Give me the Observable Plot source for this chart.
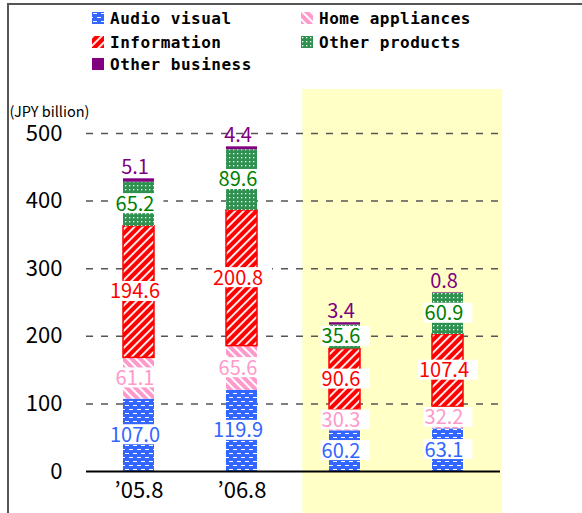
<!DOCTYPE html>
<html>
<head>
<meta charset="utf-8">
<script src="https://cdn.jsdelivr.net/npm/d3@7"></script>
<script src="https://cdn.jsdelivr.net/npm/@observablehq/plot@0.6"></script>
<style>
  body { margin: 0; background: #fff; }
  #wrap { position: relative; width: 582px; height: 513px; overflow: hidden; background: #fff; }
  #legend { position: relative; height: 80px; font-family: "DejaVu Sans Mono", monospace; font-weight: bold; font-size: 16px; color: #000; }
  .item { position: absolute; display: flex; align-items: center; white-space: nowrap; letter-spacing: 0.5px; height: 20px; }
  .item svg { margin-right: 6px; flex: none; }
  .lineL { position: absolute; left: 7px; top: 3px; width: 2px; height: 510px; background: #555; z-index: 5; }
  .lineT { position: absolute; left: 7px; top: 3px; width: 575px; height: 2px; background: #555; z-index: 5; }
  #chart svg { display: block; }
</style>
</head>
<body>
<svg width="0" height="0" style="position:absolute">
  <defs>
    <pattern id="pAV" patternUnits="userSpaceOnUse" width="8" height="8">
      <rect width="8" height="8" fill="#3366ff"/>
      <rect x="1" y="1" width="4" height="1" fill="#ffffff"/>
      <rect x="5" y="5" width="3" height="1" fill="#ffffff"/>
      <rect x="0" y="5" width="1" height="1" fill="#ffffff"/>
    </pattern>
    <pattern id="pHA" patternUnits="userSpaceOnUse" width="6" height="6" patternTransform="rotate(-45)">
      <rect width="6" height="6" fill="#ff99cc"/>
      <rect x="0" y="0" width="2" height="6" fill="#ffffff"/>
    </pattern>
    <pattern id="pIN" patternUnits="userSpaceOnUse" width="6" height="6" patternTransform="rotate(45)">
      <rect width="6" height="6" fill="#ff0000"/>
      <rect x="0" y="0" width="1.8" height="6" fill="#ffffff"/>
    </pattern>
    <pattern id="pOP" patternUnits="userSpaceOnUse" width="4" height="4">
      <rect width="4" height="4" fill="#2f9150"/>
      <rect x="1" y="1" width="1.3" height="1.3" fill="#ffffff"/>
    </pattern>
  </defs>
</svg>
<div id="wrap">
  <div class="lineL"></div>
  <div class="lineT"></div>
  <div id="legend"></div>
  <div id="chart"></div>
</div>
<script>
// ---- data ----
const periods = ["\u201905.8", "\u201906.8", "\u201906.2", "\u201907.2"];
const seriesNames = ["Audio visual", "Home appliances", "Information", "Other products", "Other business"];
const audioVisual    = [107.0, 119.9, 60.2, 63.1];
const homeAppliances = [61.1, 65.6, 30.3, 32.2];
const information    = [194.6, 200.8, 90.6, 107.4];
const otherProducts  = [65.2, 89.6, 35.6, 60.9];
const otherBusiness  = [5.1, 4.4, 3.4, 0.8];
const yTicks = [0, 100, 200, 300, 400, 500];
const highlighted = ["\u201906.2", "\u201907.2"];
const unitLabel = "(JPY billion)";

// ---- styling tables ----
const seriesValues = [audioVisual, homeAppliances, information, otherProducts, otherBusiness];
const fills = {
  "Audio visual": "url(#pAV)",
  "Home appliances": "url(#pHA)",
  "Information": "url(#pIN)",
  "Other products": "url(#pOP)",
  "Other business": "#800080"
};
const labelColors = {
  "Audio visual": "#3366ff",
  "Home appliances": "#ff99cc",
  "Information": "#ff0000",
  "Other products": "#008000",
  "Other business": "#800080"
};

const rows = [];
periods.forEach((p, i) => {
  seriesNames.forEach((s, j) => {
    rows.push({period: p, series: s, value: seriesValues[j][i]});
  });
});
const totals = periods.map((p, i) => ({
  period: p,
  total: d3.sum(seriesValues, arr => arr[i]),
  value: otherBusiness[i]
}));

// ---- legend ----
const legendPos = [
  {s: "Audio visual", left: 92, top: 8},
  {s: "Home appliances", left: 301, top: 8},
  {s: "Information", left: 92, top: 32},
  {s: "Other products", left: 301, top: 32},
  {s: "Other business", left: 92, top: 54}
];
const legend = document.getElementById("legend");
legendPos.forEach(({s, left, top}) => {
  const div = document.createElement("div");
  div.className = "item";
  div.style.left = left + "px";
  div.style.top = top + "px";
  div.innerHTML = `<svg width="12" height="12"><rect width="12" height="12" fill="${fills[s]}"/></svg><span>${s}</span>`;
  legend.appendChild(div);
});

// ---- highlight band (drawn from the x scale) ----
function highlight(index, scales, values, dims) {
  const x = scales.x;
  const step = x.step ? x.step() : 103.5;
  const bw = x.bandwidth ? x.bandwidth() : 31;
  const c1 = x(highlighted[0]) + bw / 2;
  const c2 = x(highlighted[highlighted.length - 1]) + bw / 2;
  const r = document.createElementNS("http://www.w3.org/2000/svg", "rect");
  r.setAttribute("x", c1 - 0.41 * step);
  r.setAttribute("width", (c2 + 0.53 * step) - (c1 - 0.41 * step));
  r.setAttribute("y", dims.marginTop - 44);
  r.setAttribute("height", dims.height - (dims.marginTop - 44));
  r.setAttribute("fill", "#ffffc6");
  return r;
}

const labelFont = "'Noto Sans CJK JP', 'Noto Sans', sans-serif";

const chart = Plot.plot({
  width: 582,
  height: 433,
  marginLeft: 86,
  marginRight: 82,
  marginTop: 53,
  marginBottom: 42,
  style: {background: "transparent", fontFamily: labelFont, fontSize: "22px", color: "#000"},
  x: {domain: periods, paddingInner: 0.7, paddingOuter: 0.35, tickSize: 0, tickPadding: 11, label: null},
  y: {domain: [0, 500], ticks: yTicks, tickSize: 0, tickPadding: 24, label: null},
  color: {type: "identity"},
  marks: [
    highlight,
    Plot.ruleY(yTicks.filter(d => d > 0), {stroke: "#555", strokeWidth: 1.5, strokeDasharray: "7,8"}),
    Plot.barY(rows, Plot.stackY({
      x: "period", y: "value", z: "series",
      fill: d => fills[d.series],
      stroke: d => d.series === "Information" ? "#ff0000" : "none",
      strokeWidth: 1.5
    })),
    Plot.ruleY([0], {stroke: "#000", strokeWidth: 2}),
    Plot.text(rows.filter(d => d.series !== "Other business"), Plot.stackY({
      x: "period", y: "value", z: "series",
      text: d => d.value.toFixed(1),
      fill: d => labelColors[d.series],
      fontSize: 20, dx: -4
    })),
    Plot.text(totals, {
      x: "period", y: "total",
      text: d => d.value.toFixed(1),
      fill: labelColors["Other business"],
      fontSize: 20, dx: -4, dy: -11
    }),
    Plot.text([unitLabel], {
      text: d => d, frameAnchor: "top-left", textAnchor: "start",
      dx: -77, dy: -27, fontSize: 14.5, fill: "#000"
    })
  ]
});

document.getElementById("chart").appendChild(chart);

// white boxes behind the value labels (first text mark = segment labels)
const textGroups = chart.querySelectorAll('g[aria-label="text"]');
if (textGroups.length) {
  textGroups[0].querySelectorAll("text").forEach(t => {
    const b = t.getBBox();
    const r = document.createElementNS("http://www.w3.org/2000/svg", "rect");
    const cy = b.y + b.height / 2 + 1;
    r.setAttribute("x", b.x - 1);
    r.setAttribute("width", b.width + 10);
    r.setAttribute("y", cy - 10);
    r.setAttribute("height", 20);
    r.setAttribute("fill", "#fff");
    if (t.getAttribute("transform")) r.setAttribute("transform", t.getAttribute("transform"));
    t.parentNode.insertBefore(r, t);
  });
}
</script>
</body>
</html>
